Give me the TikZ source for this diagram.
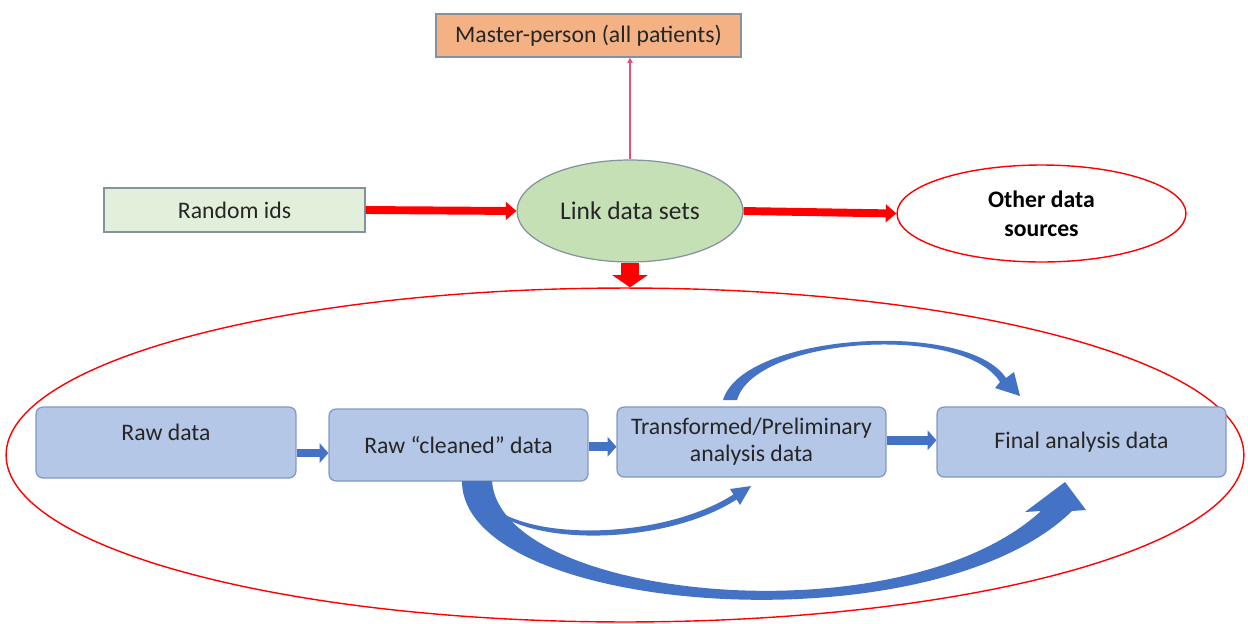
\documentclass[tikz,border=0pt]{standalone}
\usepackage{fontspec}
\setmainfont{Carlito}
\usetikzlibrary{arrows.meta,shapes.geometric,calc}
\definecolor{boxblue}{RGB}{180,199,231}
\definecolor{boxblueline}{RGB}{127,152,196}
\definecolor{arrblue}{RGB}{68,114,196}
\definecolor{mastfill}{RGB}{244,177,131}
\definecolor{randfill}{RGB}{226,239,218}
\definecolor{linkfill}{RGB}{197,224,180}
\definecolor{grayline}{RGB}{132,146,160}
\definecolor{txt}{RGB}{38,38,38}
\definecolor{pinkline}{RGB}{228,80,120}
\tikzset{
  flowbox/.style={draw=boxblueline, line width=0.7pt, fill=boxblue, rounded corners=4pt,
    inner sep=0pt, align=center, text=txt, font=\fontsize{13.5}{15.5}\selectfont},
  topbox/.style={draw=grayline, line width=0.7pt, inner sep=0pt, align=center, text=txt,
    font=\fontsize{13.5}{15.5}\selectfont},
  redarrow/.style={draw=red, line width=4.5pt, -{Triangle[length=6pt,width=10pt]}},
  bluestep/.style={draw=arrblue, line width=5pt, -{Triangle[length=5pt,width=11pt]}},
  blueswoop/.style={fill=arrblue, draw=none},
}
\begin{document}
\begin{tikzpicture}[x=0.02cm,y=-0.02cm]
\useasboundingbox (0,0) rectangle (1248,623);

% top row
\node[topbox, fill=mastfill, minimum width=6.1cm, minimum height=0.86cm] (master) at (588.5,35.5) {Master-person (all patients)};
\node[topbox, fill=randfill, minimum width=5.22cm, minimum height=0.88cm] (random) at (234.5,210) {Random ids};
\node[topbox, ellipse, fill=linkfill, minimum width=4.52cm, minimum height=2.04cm,
  font=\fontsize{14.5}{16}\selectfont] (link) at (630,211) {Link data sets};
\node[ellipse, draw=red, line width=0.8pt, fill=white, inner sep=0pt, minimum width=5.78cm, minimum height=1.94cm,
  align=center, font=\fontsize{13.5}{16.5}\selectfont\bfseries, text=black] (other) at (1041.5,213.5) {Other data\\sources};

% big ellipse
\node[ellipse, draw=red, line width=0.8pt, inner sep=0pt, minimum width=24.76cm, minimum height=6.68cm] (big) at (625,455) {};

% connectors top
\draw[pinkline, line width=0.7pt, -{Triangle[length=3pt,width=3pt]}] (link.north) -- (link.north |- master.south);
\draw[redarrow] (random.east) -- (link.west);
\draw[redarrow] (link.east) -- (other.west);
\draw[draw=red, line width=10pt, -{Triangle[length=7pt,width=20pt]}] (link.south) -- (link.south |- big.north);

% bottom boxes
\node[flowbox, minimum width=5.2cm, minimum height=1.42cm] (raw) at (166,442.5) {Raw data\\[-4pt]\mbox{}};
\node[flowbox, minimum width=5.18cm, minimum height=1.44cm] (clean) at (458.5,445) {Raw “cleaned” data};
\node[flowbox, minimum width=5.38cm, minimum height=1.4cm] (trans) at (751.5,442) {Transformed/Preliminary\\analysis data};
\node[flowbox, minimum width=5.78cm, minimum height=1.4cm] (final) at (1081.5,442) {Final analysis data};

% straight block arrows
\draw[bluestep] ([yshift=-6pt]raw.east) -- ([yshift=-6pt]raw.east -| clean.west);
\draw[bluestep] ([yshift=-1pt]clean.east) -- ([yshift=-1pt]clean.east -| trans.west);
\draw[bluestep] ([yshift=1pt]trans.east) -- ([yshift=1pt]trans.east -| final.west);

% curved arrow: transformed -> final (over the top)
\fill[blueswoop] (723,400) .. controls (743,333) and (967,319) .. (1006,378)
  -- (1014,372) -- (1020,396) -- (995,388) -- (1000,382)
  .. controls (963,323) and (755,337) .. (737,400) -- cycle;

% curved arrow: cleaned -> transformed (below)
\fill[blueswoop] (480,494) .. controls (510,543) and (659,542) .. (733.4,494.5)
  -- (730,489) -- (751,486) -- (740,505) -- (736.6,499.5)
  .. controls (661,548) and (510,548) .. (482,497) -- cycle;

% curved arrow: cleaned -> final (big swoop)
\fill[blueswoop] (462,481) .. controls (462,615) and (930,650) .. (1072,511)
  -- (1086,510) -- (1065,482) -- (1025,512) -- (1041,511)
  .. controls (900,640) and (500,600) .. (492,481) -- cycle;
\end{tikzpicture}
\end{document}
